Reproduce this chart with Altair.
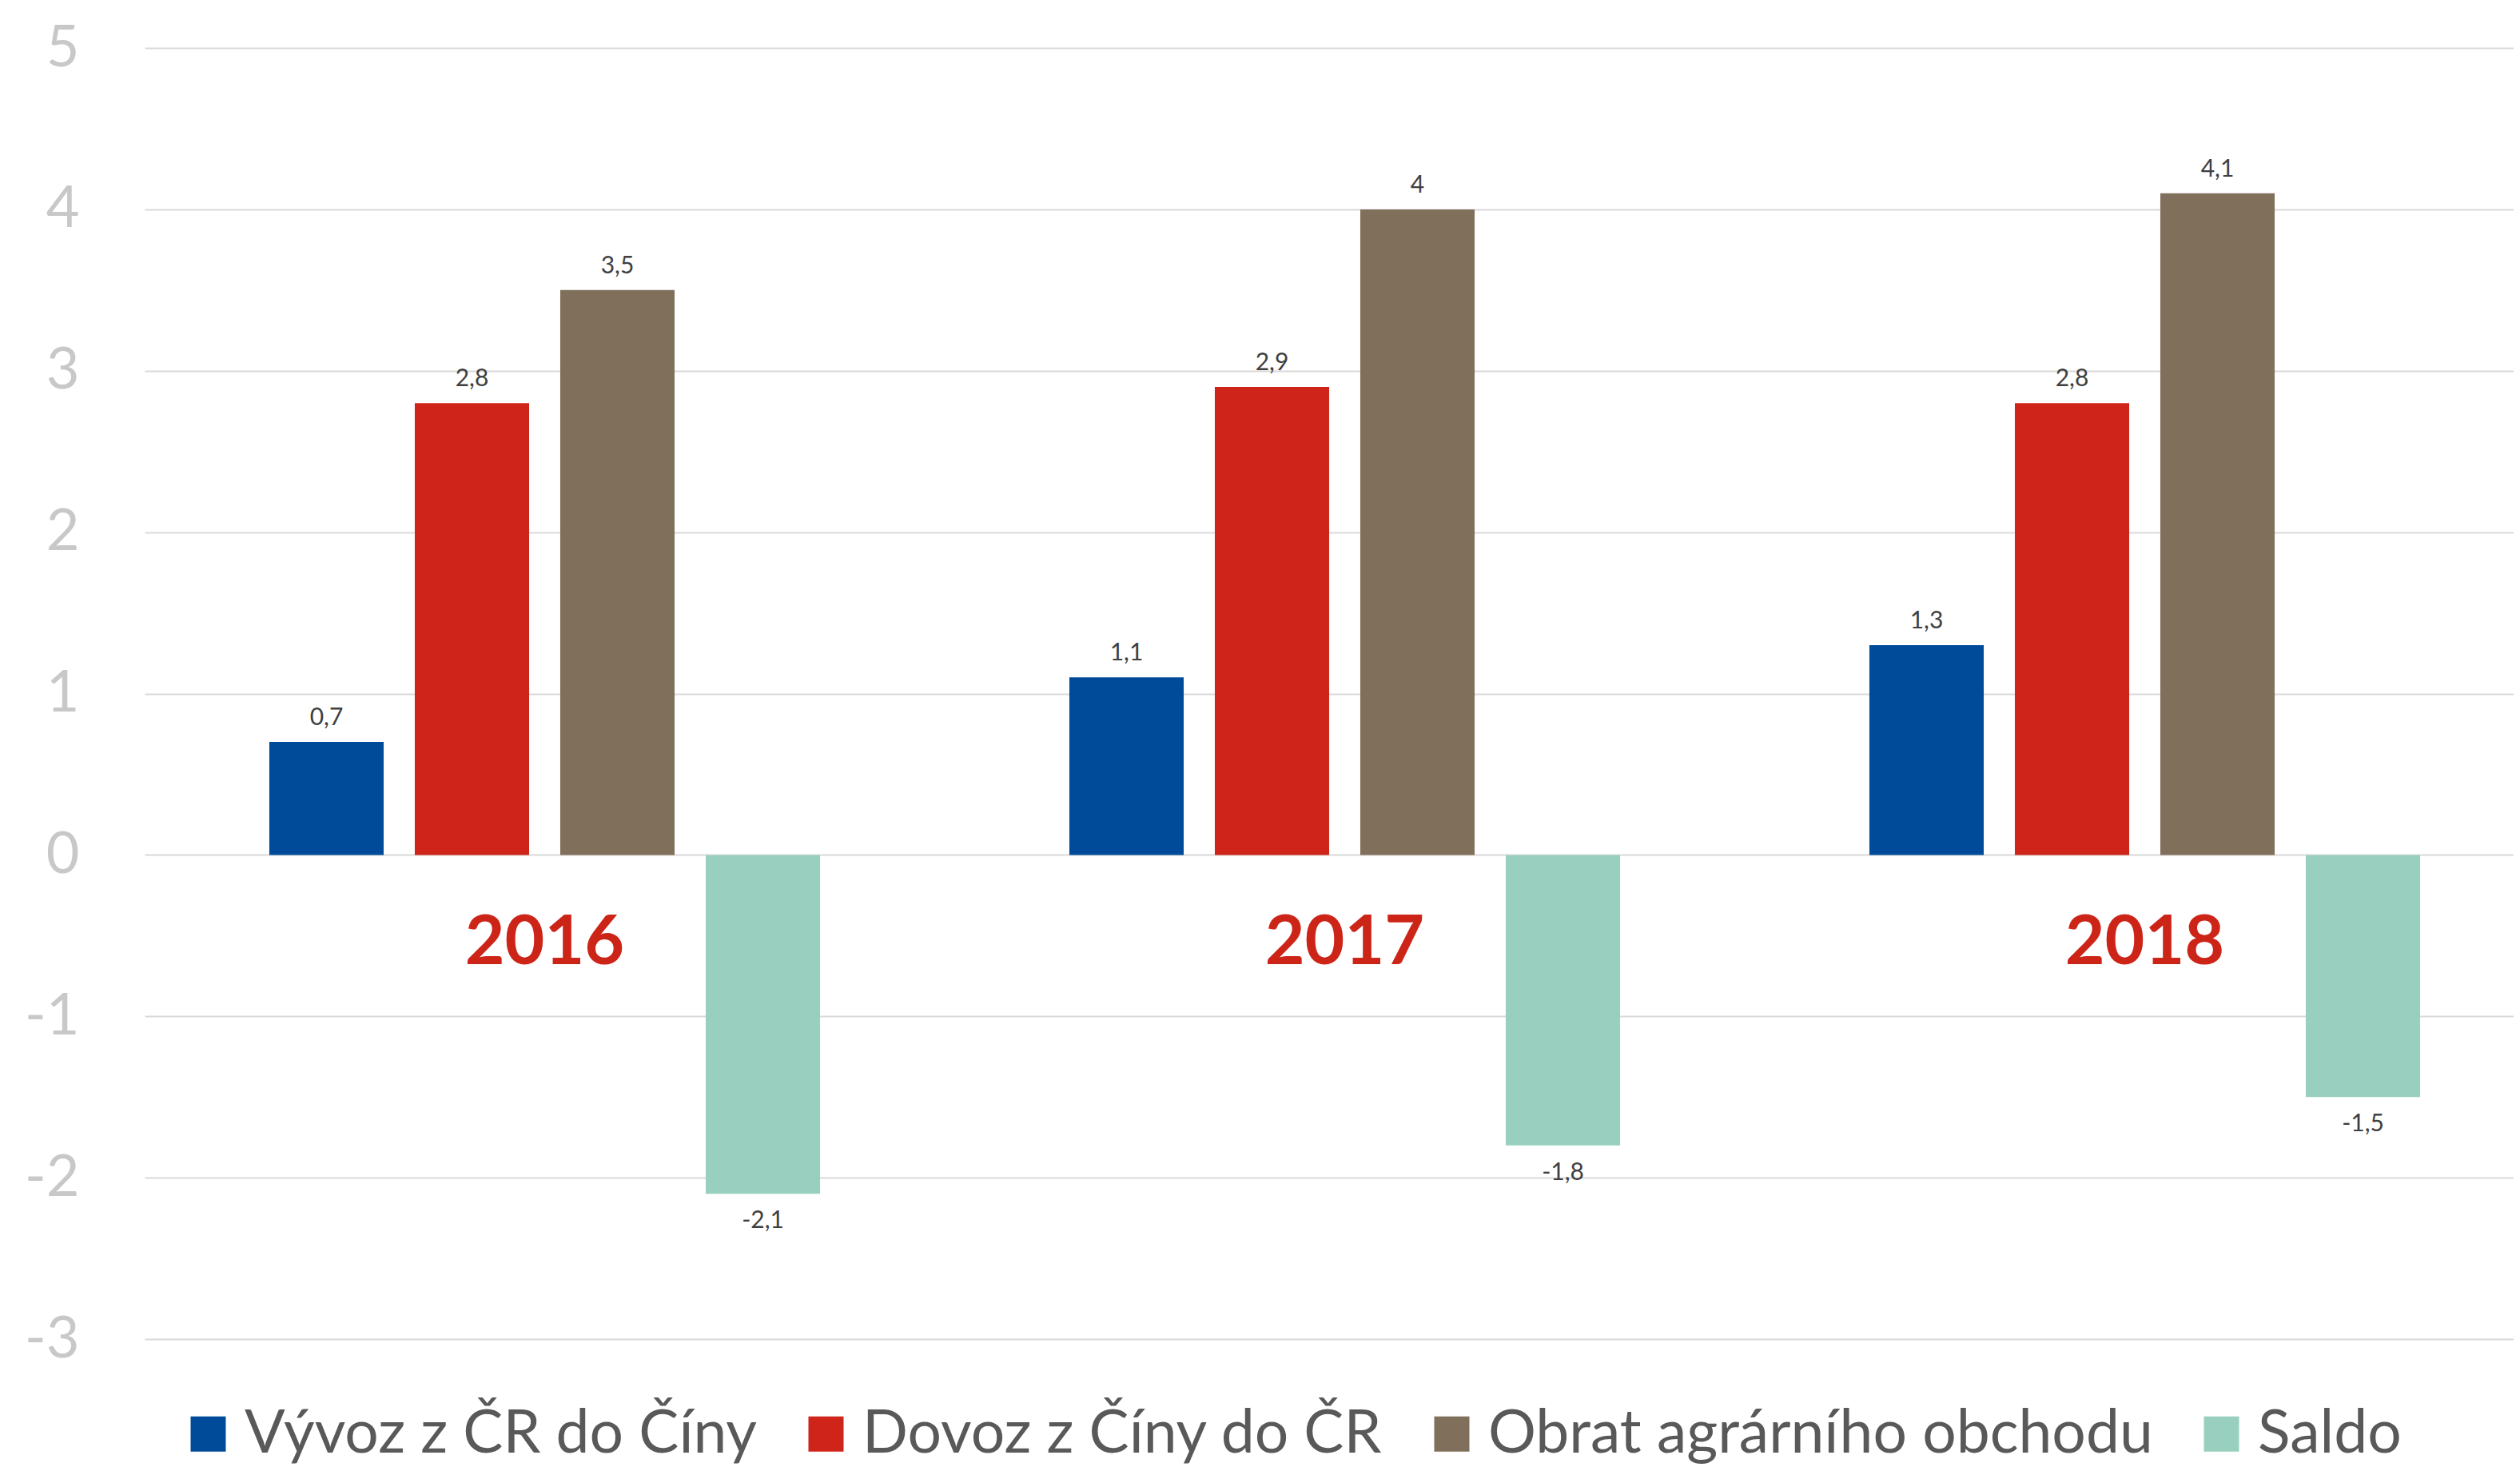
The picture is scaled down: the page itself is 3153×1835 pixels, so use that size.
import altair as alt
import pandas as pd

years = ["2016", "2017", "2018"]
series = ["Vývoz z ČR do Číny", "Dovoz z Číny do ČR", "Obrat agrárního obchodu", "Saldo"]
colors = ["#004b99", "#cf2419", "#806f5b", "#99cfbe"]
vyvoz = [0.7, 1.1, 1.3]
dovoz = [2.8, 2.9, 2.8]
obrat = [3.5, 4.0, 4.1]
saldo = [-2.1, -1.8, -1.5]
y_ticks = [-3, -2, -1, 0, 1, 2, 3, 4, 5]

rows = []
for s, vals in zip(series, [vyvoz, dovoz, obrat, saldo]):
    for yr, v in zip(years, vals):
        rows.append({"rok": yr, "rada": s, "hodnota": v,
                     "popisek": f"{v:g}".replace(".", ",")})
df = pd.DataFrame(rows)

x_enc = alt.X(
    "rok:N", sort=years,
    scale=alt.Scale(range=[0, 3003], paddingInner=0, paddingOuter=0),
    axis=alt.Axis(title=None, orient="bottom", offset=-496, domain=False, ticks=False,
                  labelAngle=0, labelPadding=0, labelBaseline="middle", labelLimit=0,
                  labelFont="Lato", labelFontSize=86, labelFontWeight="bold",
                  labelColor="#cd2418", grid=False),
)
xoff_enc = alt.XOffset("rada:N", sort=series,
                       scale=alt.Scale(paddingInner=0.214, paddingOuter=0.857))
y_enc = alt.Y(
    "hodnota:Q",
    scale=alt.Scale(domain=[-3, 5], nice=False, zero=False),
    axis=alt.Axis(title=None, values=y_ticks, domain=False, ticks=False,
                  labelPadding=82, labelFont="Lato", labelFontSize=72,
                  labelColor="#c8c8c8", gridColor="#d9d9d9", gridWidth=2,
                  labelExpr="datum.value < 0 ? '-' + abs(datum.value) : '' + datum.value"),
)

base = alt.Chart(df).encode(x=x_enc, xOffset=xoff_enc)

bars = base.mark_bar().encode(
    y=y_enc,
    color=alt.Color(
        "rada:N", sort=series,
        scale=alt.Scale(domain=series, range=colors),
        legend=alt.Legend(title=None, orient="none", legendX=42, legendY=1696,
                          direction="horizontal", symbolType="square", symbolSize=1936,
                          symbolStrokeWidth=0, labelFont="Lato", labelFontSize=75,
                          labelColor="#595959", labelOffset=8, columnPadding=48,
                          padding=0, labelLimit=0),
    ),
)

pos = base.mark_text(baseline="middle", dy=-30, font="Lato", fontSize=30,
                     color="#404040").encode(
    y="hodnota:Q", text="popisek:N").transform_filter("datum.hodnota >= 0")
neg = base.mark_text(baseline="middle", dy=34, font="Lato", fontSize=30,
                     color="#404040").encode(
    y="hodnota:Q", text="popisek:N").transform_filter("datum.hodnota < 0")

chart = alt.layer(bars, pos, neg).properties(
    width=2960, height=1615,
    autosize=alt.AutoSizeParams(type="none"),
    padding={"left": 173, "top": 52, "right": 4, "bottom": 160},
    background="white",
).configure_view(stroke=None)

chart.save("out.html", embed_options={"renderer": "svg", "actions": False})
